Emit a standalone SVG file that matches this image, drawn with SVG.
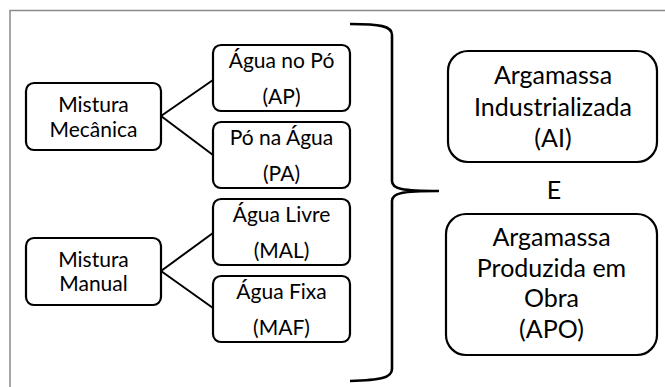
<svg xmlns="http://www.w3.org/2000/svg" width="665" height="387" viewBox="0 0 665 387">
<style>
.box{fill:#fff;stroke:#000;stroke-width:2.2}
.t{font-family:Lato,"Liberation Sans",sans-serif;fill:#000;text-anchor:middle}
.s{font-size:21px}
.b{font-size:25px}
.c{stroke:#000;stroke-width:2;fill:none}
.br{stroke:#000;stroke-width:2.6;fill:none;stroke-linecap:butt}
</style>
<rect x="0" y="0" width="665" height="387" fill="#fff"/>
<path d="M10,387 L10,10.5 L665,10.5" fill="none" stroke="#8a8a8a" stroke-width="1.5"/>
<g id="connectors">
<line class="c" x1="161" y1="116" x2="213" y2="80"/>
<line class="c" x1="161" y1="116" x2="213" y2="155"/>
<line class="c" x1="161" y1="271" x2="213" y2="233"/>
<line class="c" x1="161" y1="271" x2="213" y2="308"/>
<path class="br" d="M350,24 C380,24 392,26 392,35 L392,181 C392,189 402,191 439,191 C402,191 392,193 392,201 L392,369 C392,378 380,380 350,381"/>
</g>
<g id="mistura-mecanica">
<rect class="box" x="26" y="83" width="135" height="67" rx="8"/>
<text class="t s" x="93.5" y="112">Mistura</text>
<text class="t s" x="93.5" y="137">Mecânica</text>
</g>
<g id="mistura-manual">
<rect class="box" x="26" y="238" width="135" height="67" rx="8"/>
<text class="t s" x="93.5" y="267">Mistura</text>
<text class="t s" x="93.5" y="291">Manual</text>
</g>
<g id="agua-no-po">
<rect class="box" x="213" y="45" width="137" height="66" rx="8"/>
<text class="t s" x="281.5" y="68">Água no Pó</text>
<text class="t s" x="281.5" y="104">(AP)</text>
</g>
<g id="po-na-agua">
<rect class="box" x="213" y="122" width="137" height="66" rx="8"/>
<text class="t s" x="281.5" y="145">Pó na Água</text>
<text class="t s" x="281.5" y="181">(PA)</text>
</g>
<g id="agua-livre">
<rect class="box" x="213" y="199" width="137" height="66" rx="8"/>
<text class="t s" x="281.5" y="222">Água Livre</text>
<text class="t s" x="281.5" y="258">(MAL)</text>
</g>
<g id="agua-fixa">
<rect class="box" x="213" y="276" width="137" height="66" rx="8"/>
<text class="t s" x="281.5" y="299">Água Fixa</text>
<text class="t s" x="281.5" y="335">(MAF)</text>
</g>
<g id="argamassa-industrializada">
<rect class="box" x="448" y="51" width="209" height="111" rx="20"/>
<text class="t b" x="553" y="84">Argamassa</text>
<text class="t b" x="553" y="116">Industrializada</text>
<text class="t b" x="553" y="147">(AI)</text>
</g>
<text id="e" class="t b" x="554" y="199">E</text>
<g id="argamassa-produzida">
<rect class="box" x="446" y="214" width="211" height="141" rx="20"/>
<text class="t b" x="551.5" y="246">Argamassa</text>
<text class="t b" x="551.5" y="277">Produzida em</text>
<text class="t b" x="551.5" y="307">Obra</text>
<text class="t b" x="551.5" y="338">(APO)</text>
</g>
</svg>
